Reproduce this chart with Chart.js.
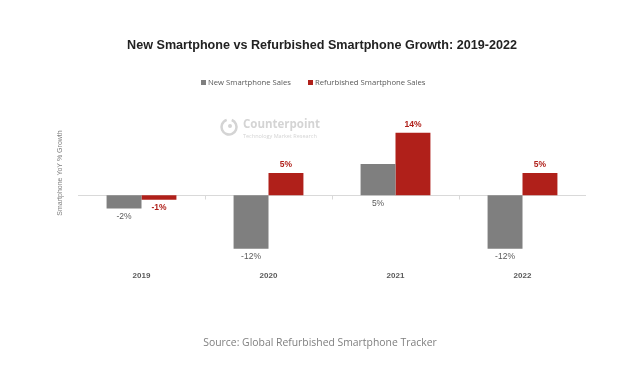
<!DOCTYPE html>
<html>
<head>
<meta charset="utf-8">
<script src="https://cdn.jsdelivr.net/npm/chart.js@4"></script>
<style>
  html, body { margin: 0; padding: 0; background: #fff; }
  #wrap { width: 640px; height: 367px; }
</style>
</head>
<body>
<div id="wrap"><canvas id="grafico" width="640" height="367"></canvas></div>
<script>
const anos = ['2019', '2020', '2021', '2022'];
const vendasNovos = [-3, -12, 7, -12];
const vendasRecondicionados = [-1, 5, 14, 5];
const rotulosNovos = ['-2%', '-12%', '5%', '-12%'];
const rotulosRecondicionados = ['-1%', '5%', '14%', '5%'];

const corCinza = '#7f7f7f';
const corVermelho = '#b0201a';

// linha do zero com pequenos traços entre as categorias
const linhaZero = {
  id: 'linhaZero',
  beforeDatasetsDraw(chart) {
    const { ctx, chartArea, scales } = chart;
    const y0 = Math.round(scales.y.getPixelForValue(0)) + 0.5;
    ctx.save();
    ctx.strokeStyle = '#d9d9d9';
    ctx.lineWidth = 1;
    ctx.beginPath();
    ctx.moveTo(chartArea.left, y0);
    ctx.lineTo(chartArea.right, y0);
    for (let i = 0; i < anos.length - 1; i++) {
      const xb = Math.round((scales.x.getPixelForValue(i) + scales.x.getPixelForValue(i + 1)) / 2) + 0.5;
      ctx.moveTo(xb, y0);
      ctx.lineTo(xb, y0 + 4);
    }
    ctx.stroke();
    ctx.restore();
  }
};

// título, legenda e fonte (posições fixas como no original)
const textos = {
  id: 'textos',
  afterDraw(chart) {
    const { ctx } = chart;
    ctx.save();
    ctx.textBaseline = 'middle';

    ctx.textAlign = 'center';
    ctx.fillStyle = '#222';
    ctx.font = 'bold 12.6px "Liberation Sans"';
    ctx.fillText('New Smartphone vs Refurbished Smartphone Growth: 2019-2022', 322, 46);

    ctx.textAlign = 'left';
    ctx.font = '7.7px "Open Sans"';
    const posLegenda = [201, 308];
    chart.data.datasets.forEach((ds, i) => {
      ctx.fillStyle = ds.backgroundColor;
      ctx.fillRect(posLegenda[i], 80, 5, 5);
      ctx.fillStyle = '#595959';
      ctx.fillText(ds.label, posLegenda[i] + 7, 82.5);
    });

    ctx.textAlign = 'center';
    ctx.fillStyle = '#7f7f7f';
    ctx.font = '10.4px "Open Sans"';
    ctx.fillText('Source: Global Refurbished Smartphone Tracker', 320, 343);
    ctx.restore();
  }
};

// marca d'água Counterpoint + título do eixo Y
const extras = {
  id: 'extras',
  beforeDatasetsDraw(chart) {
    const { ctx } = chart;
    ctx.save();
    ctx.strokeStyle = '#d4d4d4';
    ctx.fillStyle = '#d4d4d4';
    ctx.lineWidth = 2.5;
    ctx.beginPath();
    ctx.arc(229, 127, 7.5, -1.2, 4.4);
    ctx.stroke();
    ctx.beginPath();
    ctx.arc(230, 126, 2, 0, Math.PI * 2);
    ctx.fill();
    ctx.textBaseline = 'middle';
    ctx.textAlign = 'left';
    ctx.font = 'bold 11.5px "Open Sans"';
    ctx.fillText('Counterpoint', 243, 125);
    ctx.font = '5.5px "Open Sans"';
    ctx.fillText('Technology Market Research', 243, 136);

    ctx.translate(60, 173);
    ctx.rotate(-Math.PI / 2);
    ctx.textAlign = 'center';
    ctx.fillStyle = '#7f7f7f';
    ctx.font = '7px "Liberation Sans"';
    ctx.fillText('Smartphone YoY % Growth', 0, 0);
    ctx.restore();
  }
};

// rótulos de valor das barras
const rotulos = {
  id: 'rotulos',
  afterDatasetsDraw(chart) {
    const { ctx } = chart;
    ctx.save();
    ctx.textAlign = 'center';
    ctx.textBaseline = 'middle';
    chart.getDatasetMeta(0).data.forEach((barra, i) => {
      ctx.font = '8.5px "Liberation Sans"';
      ctx.fillStyle = '#595959';
      ctx.fillText(rotulosNovos[i], barra.x, Math.max(barra.y, barra.base) + 8);
    });
    chart.getDatasetMeta(1).data.forEach((barra, i) => {
      ctx.font = 'bold 8.5px "Liberation Sans"';
      ctx.fillStyle = corVermelho;
      const y = vendasRecondicionados[i] >= 0 ? barra.y - 8 : barra.y + 8;
      ctx.fillText(rotulosRecondicionados[i], barra.x, y);
    });
    ctx.restore();
  }
};

new Chart(document.getElementById('grafico'), {
  type: 'bar',
  data: {
    labels: anos,
    datasets: [
      { label: 'New Smartphone Sales', data: vendasNovos, backgroundColor: corCinza },
      { label: 'Refurbished Smartphone Sales', data: vendasRecondicionados, backgroundColor: corVermelho }
    ]
  },
  options: {
    responsive: false,
    animation: false,
    devicePixelRatio: 1,
    layout: { padding: { left: 78, right: 54, top: 100, bottom: 85 } },
    datasets: { bar: { barPercentage: 1, categoryPercentage: 0.55 } },
    plugins: {
      legend: { display: false },
      tooltip: { enabled: false }
    },
    scales: {
      x: {
        grid: { display: false },
        border: { display: false },
        ticks: { color: '#595959', padding: 1, font: { family: '"Liberation Sans"', size: 8, weight: 'bold' } }
      },
      y: {
        display: false,
        min: -15.06,
        max: 21.35
      }
    }
  },
  plugins: [linhaZero, extras, rotulos, textos]
});
</script>
</body>
</html>
